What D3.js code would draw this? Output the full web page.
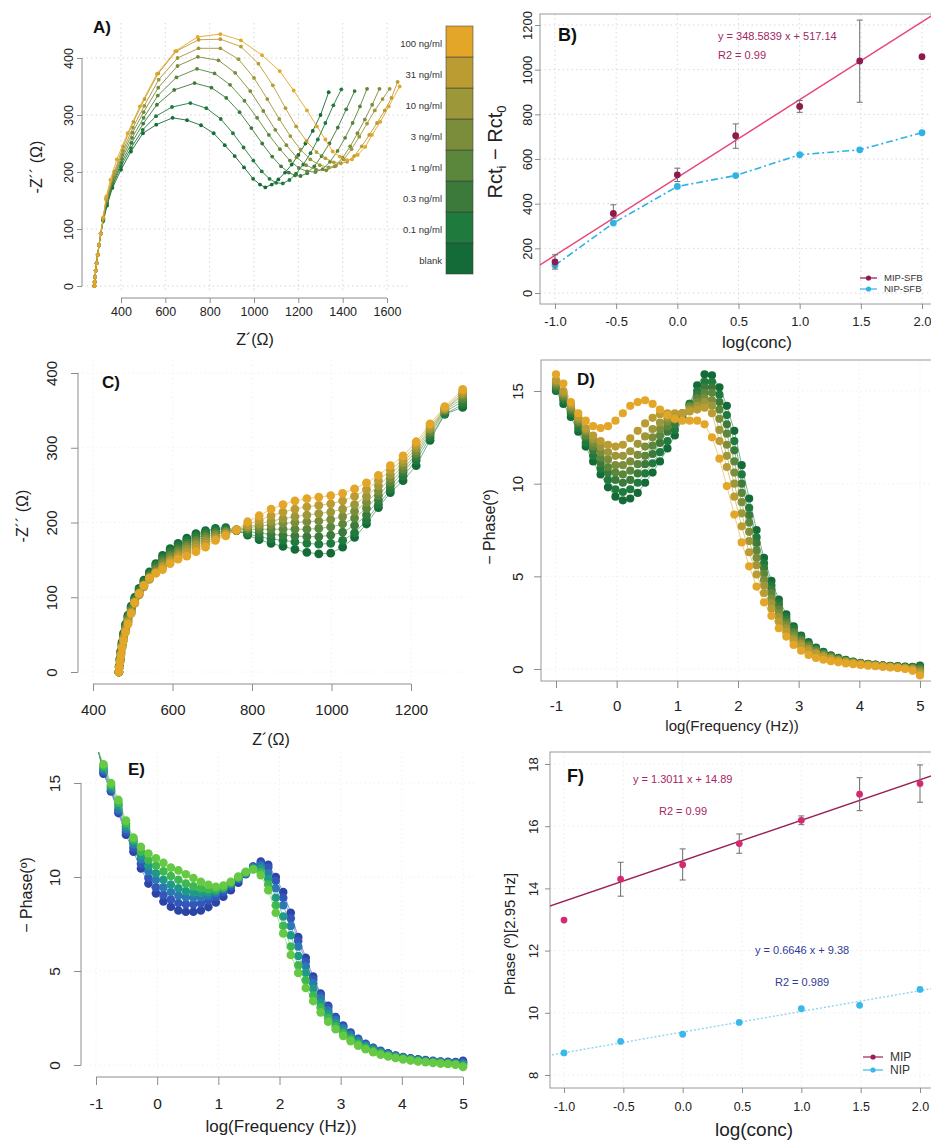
<!DOCTYPE html>
<html><head><meta charset="utf-8">
<script src="https://cdn.jsdelivr.net/npm/d3@7"></script>
<style>body{margin:0;background:#fff}svg{display:block}</style>
</head><body><svg width="931" height="1141"></svg>
<script>
// ---------- data ----------
const concLabels = ['blank', '0.1 ng/ml', '0.3 ng/ml', '1 ng/ml', '3 ng/ml', '10 ng/ml', '31 ng/ml', '100 ng/ml'];
const concColors = ['#156b37', '#1e7a3d', '#3b7a3b', '#5a873c', '#7b8d3a', '#9c9739', '#bb9c33', '#e3a629'];

// A) Nyquist, [Z', -Z'']
const nyqA = [
  [[280,0],[281,7],[283,16],[286,27],[290,40],[295,55],[301,72],[309,92],[320,114],[337,141],[361,172],[400,204],[445,236],[499,268],[559,283],[633,295],[698,291],[761,282],[818,268],[868,247],[913,228],[955,208],[996,188],[1027,178],[1051,173],[1080,178],[1110,187],[1140,199],[1170,213],[1200,230],[1232,250],[1265,272],[1300,300],[1337,340]],
  [[280,0],[281,7],[283,16],[286,27],[290,40],[295,55],[301,72],[309,92],[320,115],[337,144],[361,176],[400,210],[445,242],[498,274],[558,298],[630,314],[713,321],[785,312],[850,293],[905,268],[953,243],[997,220],[1035,201],[1070,188],[1100,181],[1130,180],[1160,186],[1190,197],[1222,213],[1255,233],[1288,257],[1322,286],[1358,317],[1394,345]],
  [[280,0],[281,7],[283,16],[286,27],[290,40],[295,55],[301,72],[309,92],[320,116],[337,146],[362,180],[402,216],[448,251],[500,285],[562,318],[640,344],[732,356],[808,348],[875,330],[935,305],[988,277],[1037,250],[1082,227],[1122,210],[1157,199],[1185,194],[1210,193],[1240,198],[1272,210],[1305,228],[1340,250],[1378,278],[1416,310],[1454,342]],
  [[280,0],[281,7],[283,16],[286,27],[290,40],[295,55],[301,72],[309,92],[320,117],[336,148],[364,185],[404,223],[450,260],[502,295],[566,334],[650,366],[743,381],[822,373],[892,353],[957,325],[1014,295],[1067,265],[1117,240],[1162,220],[1202,207],[1240,201],[1277,200],[1310,205],[1343,218],[1377,237],[1411,260],[1445,286],[1478,315],[1510,346]],
  [[280,0],[281,7],[283,16],[286,27],[290,40],[295,55],[301,72],[309,92],[320,118],[335,150],[366,190],[406,230],[452,269],[502,305],[568,348],[655,386],[747,402],[840,396],[915,374],[983,342],[1042,307],[1096,274],[1146,247],[1192,226],[1235,212],[1280,204],[1326,203],[1364,210],[1400,225],[1434,245],[1467,268],[1500,292],[1533,318],[1566,346]],
  [[280,0],[281,7],[283,16],[286,27],[290,40],[295,55],[301,72],[309,92],[320,119],[334,152],[368,195],[408,237],[454,278],[505,316],[570,362],[655,400],[750,417],[848,417],[930,398],[1000,365],[1060,328],[1114,293],[1164,263],[1210,239],[1254,222],[1297,212],[1337,208],[1370,211],[1405,222],[1440,240],[1475,262],[1510,285],[1545,308],[1580,328],[1612,346]],
  [[280,0],[281,7],[283,16],[286,27],[290,40],[295,55],[301,72],[309,92],[320,120],[333,154],[370,201],[410,245],[456,288],[506,328],[568,373],[650,412],[750,432],[848,433],[941,420],[1020,390],[1085,352],[1142,312],[1190,280],[1237,254],[1282,235],[1322,224],[1360,217],[1392,215],[1420,218],[1452,228],[1486,245],[1520,265],[1555,286],[1590,308],[1620,330],[1648,358]],
  [[280,0],[281,7],[283,16],[286,27],[290,40],[295,55],[301,72],[309,92],[320,121],[334,157],[352,186],[381,222],[430,268],[485,315],[562,372],[645,412],[746,437],[848,442],[941,431],[1036,405],[1116,377],[1179,343],[1239,308],[1284,280],[1322,257],[1355,236],[1387,227],[1420,221],[1442,222],[1468,230],[1502,244],[1532,265],[1570,288],[1608,315],[1657,350]]
];

// B) Rct_i - Rct_0 vs log(conc)
const logConc = [-1, -0.523, 0, 0.477, 1, 1.491, 2];
const rctMip = [139, 356, 529, 704, 835, 1039, 1058];
const rctMipLo = [107, 335, 499, 648, 809, 854, null];
const rctMipHi = [171, 395, 559, 757, 862, 1222, null];
const rctNip = [124, 313, 477, 526, 619, 641, 718];
const fitB = [348.5839, 517.14];

// C) Nyquist (shared Z' grid), -Z'' per concentration
const nyqCx = [465,466,468,470,473,477,482,488,496,505,516,528,542,558,575,594,614,636,659,683,708,734,761,789,818,848,878,908,938,968,998,1028,1058,1088,1118,1148,1180,1213,1248,1285,1330];
const nyqCy = [
  [0,8,18,28,40,52,64,76,88,100,112,123,134,145,156,165,172,179,185,189,192,193,190,183,177,172,168,164,160,158,159,167,180,198,220,240,256,276,310,345,354],
  [0,8,17,27,38,50,62,74,86,98,110,121,132,143,153,162,169,176,182,187,190,191,189,185,181,178,176,174,172,171,172,176,186,203,224,244,262,283,314,345,358],
  [0,7,16,26,37,49,61,73,85,97,108,119,130,141,151,159,166,173,179,184,187,189,189,188,186,184,183,182,181,181,183,187,196,210,230,249,267,288,318,348,362],
  [0,7,16,25,36,47,59,71,83,95,106,117,128,138,148,156,163,170,176,181,185,188,190,191,191,191,191,191,191,192,194,198,206,219,236,254,271,292,321,350,366],
  [0,7,15,24,35,46,57,69,81,93,104,115,125,135,145,153,160,167,173,178,183,187,190,193,195,197,199,200,201,202,204,208,215,227,242,259,276,296,324,351,370],
  [0,6,15,24,34,45,56,68,80,92,103,114,124,133,142,150,157,164,170,175,180,185,189,194,198,202,205,208,210,212,214,218,224,235,249,264,280,300,326,352,372],
  [0,6,14,23,33,44,55,66,79,92,104,115,125,133,140,148,154,160,166,171,178,184,190,197,203,209,214,218,221,223,225,229,235,244,256,270,284,304,329,353,375],
  [0,6,14,22,32,42,53,64,78,93,105,116,126,132,137,145,151,155,161,167,176,182,190,201,209,218,224,229,232,234,236,239,245,253,263,276,289,308,332,355,378]
];

// D) and E) Bode phase, shared log(f) grid
const logF = [-1,-0.878,-0.755,-0.633,-0.51,-0.388,-0.265,-0.143,-0.02,0.102,0.224,0.347,0.469,0.592,0.714,0.837,0.959,1.082,1.204,1.327,1.449,1.571,1.694,1.816,1.939,2.061,2.184,2.306,2.429,2.551,2.673,2.796,2.918,3.041,3.163,3.286,3.408,3.531,3.653,3.776,3.898,4.02,4.143,4.265,4.388,4.51,4.633,4.755,4.878,5];
const phaseD = [
  [15.0,14.3,13.6,12.8,12.0,11.2,10.5,9.8,9.3, 9.1,9.2,9.5,10.05,10.6,11.2,11.9,12.6, 13.5,14.3,15.3,15.9,15.85,15.2, 14.2,12.85,11.0,9.2,7.5,6.0,4.75,3.75,2.95,2.3, 1.8,1.45,1.15,0.92,0.74,0.6,0.49,0.4,0.33,0.28,0.24,0.2,0.17,0.15,0.13,0.12,0.18],
  [15.1,14.5,13.8,13.0,12.2,11.5,10.8,10.2,9.7, 9.55,9.7,10.05,10.55,11.1,11.7,12.3,12.9, 13.6,14.3,15.0,15.5,15.5,14.8, 13.7,12.3,10.5,8.7,7.1,5.7,4.5,3.55,2.8,2.2, 1.72,1.38,1.1,0.88,0.71,0.57,0.47,0.39,0.32,0.27,0.23,0.19,0.16,0.14,0.12,0.1,0.12],
  [15.2,14.6,13.9,13.2,12.5,11.8,11.1,10.6,10.2, 10.05,10.2,10.55,11.05,11.6,12.2,12.8,13.2, 13.7,14.2,14.8,15.2,15.2,14.4, 13.2,11.8,10.0,8.3,6.8,5.45,4.3,3.4,2.65,2.05, 1.63,1.31,1.05,0.84,0.68,0.55,0.45,0.37,0.31,0.26,0.22,0.18,0.15,0.12,0.1,0.08,0.05],
  [15.3,14.7,14.0,13.3,12.6,12.0,11.4,10.9,10.6, 10.5,10.7,11.05,11.5,12.05,12.6,13.1,13.45, 13.8,14.2,14.6,14.9,14.9,14.0, 12.7,11.2,9.5,7.9,6.4,5.15,4.1,3.2,2.5,1.95, 1.55,1.25,1.0,0.8,0.65,0.53,0.43,0.36,0.3,0.25,0.21,0.17,0.14,0.11,0.08,0.05,0.0],
  [15.4,14.8,14.1,13.4,12.8,12.2,11.7,11.3,11.0, 11.0,11.2,11.55,12.0,12.5,12.95,13.35,13.6, 13.8,14.1,14.4,14.6,14.5,13.5, 12.1,10.6,9.0,7.4,6.0,4.8,3.8,3.0,2.35,1.8, 1.45,1.16,0.93,0.75,0.61,0.5,0.41,0.34,0.28,0.23,0.19,0.15,0.12,0.09,0.06,0.02,-0.08],
  [15.5,14.9,14.2,13.5,12.9,12.4,12.0,11.7,11.5, 11.5,11.75,12.15,12.55,12.95,13.3,13.55,13.7, 13.8,14.0,14.2,14.4,14.2,12.9, 11.5,10.0,8.4,6.9,5.6,4.5,3.55,2.8,2.2,1.65, 1.35,1.08,0.87,0.7,0.57,0.47,0.39,0.32,0.26,0.22,0.18,0.14,0.11,0.08,0.04,0.0,-0.15],
  [15.6,15.0,14.3,13.6,13.0,12.6,12.3,12.1,12.0, 12.1,12.45,12.85,13.25,13.55,13.75,13.8,13.8, 13.8,13.9,14.0,14.1,13.8,12.3, 10.9,9.3,7.7,6.3,5.1,4.1,3.25,2.55,2.0,1.5, 1.22,0.98,0.8,0.65,0.53,0.44,0.37,0.3,0.25,0.21,0.17,0.13,0.1,0.07,0.03,-0.03,-0.25],
  [15.9,15.4,14.4,13.8,13.4,13.1,13.0,13.1,13.4, 13.8,14.2,14.4,14.5,14.3,14.0,13.7,13.5, 13.4,13.4,13.4,13.2,12.5,11.35, 9.87,8.33,6.83,5.54,4.45,3.6,2.87,2.2,1.75,1.3, 0.99,0.76,0.6,0.5,0.42,0.36,0.3,0.26,0.22,0.18,0.15,0.12,0.08,0.05,0.0,-0.1,-0.35]
];
const colorsE = ['#2b45a7', '#3456ba', '#2a78b4', '#1f9a86', '#3db850', '#66c944'];
const phaseE = [
  [17.3,15.5,14.55,13.4,12.25,11.35,10.45,9.65,9.13, 8.7,8.42,8.22,8.15,8.15,8.22,8.4,8.65, 8.95,9.3,9.7,10.15,10.55,10.82, 10.65,10.0,9.2,8.1,6.8,5.7,4.7,3.8,3.15,2.55, 2.1,1.72,1.4,1.13,0.92,0.75,0.62,0.5,0.42,0.35,0.3,0.26,0.22,0.19,0.17,0.16,0.22],
  [17.2,15.6,14.6,13.5,12.4,11.55,10.7,9.95,9.45, 9.05,8.8,8.62,8.55,8.55,8.6,8.75,8.95, 9.2,9.5,9.85,10.2,10.55,10.72, 10.5,9.8,8.9,7.8,6.6,5.5,4.55,3.7,3.05,2.5, 2.05,1.67,1.36,1.1,0.9,0.73,0.6,0.49,0.41,0.34,0.29,0.24,0.2,0.17,0.15,0.13,0.15],
  [17.1,15.7,14.7,13.6,12.55,11.75,10.95,10.3,9.85, 9.45,9.2,9.02,8.92,8.9,8.92,9.0,9.15, 9.35,9.6,9.9,10.2,10.5,10.6, 10.2,9.4,8.5,7.4,6.3,5.25,4.35,3.55,2.9,2.38, 1.95,1.6,1.3,1.05,0.86,0.7,0.57,0.47,0.39,0.32,0.27,0.22,0.18,0.15,0.12,0.1,0.08],
  [17.1,15.8,14.8,13.8,12.7,11.9,11.15,10.6,10.2, 9.85,9.6,9.4,9.25,9.18,9.15,9.18,9.25, 9.4,9.65,9.95,10.2,10.45,10.45, 9.9,8.9,7.9,6.9,5.8,4.9,4.05,3.3,2.7,2.22, 1.82,1.48,1.2,0.98,0.8,0.65,0.53,0.44,0.36,0.3,0.24,0.2,0.16,0.13,0.1,0.07,0.02],
  [17.0,15.9,14.9,13.95,12.85,12.0,11.35,10.9,10.6, 10.3,10.05,9.85,9.65,9.5,9.4,9.35,9.35, 9.45,9.7,9.98,10.25,10.42,10.25, 9.6,8.5,7.4,6.3,5.3,4.5,3.7,3.05,2.5,2.05, 1.68,1.37,1.11,0.9,0.73,0.6,0.49,0.4,0.33,0.27,0.21,0.17,0.13,0.1,0.07,0.04,-0.05],
  [17.0,16.0,15.0,14.1,13.0,12.1,11.6,11.25,11.0, 10.75,10.5,10.35,10.15,9.95,9.75,9.58,9.48, 9.55,9.75,10.02,10.28,10.4,10.1, 9.3,8.1,7.0,5.85,4.9,4.1,3.4,2.8,2.3,1.9, 1.55,1.27,1.03,0.84,0.68,0.55,0.45,0.37,0.3,0.24,0.19,0.15,0.11,0.08,0.05,0.02,-0.1]
];

// F) phase at 2.95 Hz vs log(conc)
const phMip = [12.98, 14.30, 14.76, 15.44, 16.19, 17.03, 17.37];
const phMipLo = [null, 13.75, 14.27, 15.13, 16.05, 16.50, 16.77];
const phMipHi = [null, 14.84, 15.27, 15.75, 16.33, 17.56, 17.97];
const phNip = [8.71, 9.08, 9.31, 9.69, 10.13, 10.24, 10.75];
const fitFmip = [1.3011, 14.89];
const fitFnip = [0.6646, 9.38];

// ---------- helpers ----------
const FONT = "'Liberation Sans', Arial, Helvetica, sans-serif";
const AX = '#8c8c8c', TXT = '#222';
let svg = d3.select('svg');
svg.append('rect').attr('width', 931).attr('height', 1141).attr('fill', '#fff');
let defs = svg.append('defs');

function clip(id, x, y, w, h)
{
	defs.append('clipPath').attr('id', id).append('rect').attr('x', x).attr('y', y).attr('width', w).attr('height', h);
	return svg.append('g').attr('clip-path', 'url(#' + id + ')');
}

// R style left axis: rotated labels, line only between first and last tick
function axisY(scale, ticks, x0, o)
{
	let g = svg.append('g').attr('transform', `translate(${x0},0)`)
		.call(d3.axisLeft(scale).tickValues(ticks).tickSize(o.tick || 6).tickFormat(o.fmt || (d => String(d))));
	g.select('.domain').remove();
	g.attr('font-family', FONT).attr('font-size', o.fs);
	g.selectAll('.tick line').attr('stroke', AX);
	g.selectAll('.tick text').attr('fill', TXT).attr('transform', 'rotate(-90)')
		.attr('x', 0).attr('y', -o.pad).attr('dy', 0).attr('text-anchor', 'middle');
	if (o.line)
		g.append('line').attr('y1', scale(ticks[0])).attr('y2', scale(ticks[ticks.length - 1])).attr('stroke', AX);
}

function axisX(scale, ticks, y0, o)
{
	let g = svg.append('g').attr('transform', `translate(0,${y0})`)
		.call(d3.axisBottom(scale).tickValues(ticks).tickSize(o.tick || 6).tickPadding(o.pad).tickFormat(o.fmt || (d => String(d))));
	g.select('.domain').remove();
	g.attr('font-family', FONT).attr('font-size', o.fs);
	g.selectAll('.tick line').attr('stroke', AX);
	g.selectAll('.tick text').attr('fill', TXT);
	if (o.line)
		g.append('line').attr('x1', scale(ticks[0])).attr('x2', scale(ticks[ticks.length - 1])).attr('stroke', AX);
}

function grid(xs, ys, sx, sy, x0, x1, y0, y1, col)
{
	let g = svg.append('g').attr('stroke', col).attr('stroke-dasharray', '1.5,3').attr('stroke-width', 1);
	g.selectAll(null).data(xs).enter().append('line')
		.attr('x1', d => sx(d)).attr('x2', d => sx(d)).attr('y1', y0).attr('y2', y1);
	g.selectAll(null).data(ys).enter().append('line')
		.attr('y1', d => sy(d)).attr('y2', d => sy(d)).attr('x1', x0).attr('x2', x1);
}

function text(x, y, s, o = {})
{
	return svg.append('text').attr('x', x).attr('y', y).text(s)
		.attr('font-family', FONT).attr('font-size', o.fs || 14)
		.attr('font-weight', o.bold ? 'bold' : null)
		.attr('fill', o.col || TXT).attr('text-anchor', o.anchor || 'start');
}

function vtext(x, y, s, fs)
{
	return svg.append('text').attr('transform', `translate(${x},${y}) rotate(-90)`)
		.attr('text-anchor', 'middle').attr('dy', '0.35em')
		.attr('font-family', FONT).attr('font-size', fs).attr('fill', TXT).text(s);
}

function series(g, pts, sx, sy, col, r, lw, lop)
{
	g.append('path').datum(pts)
		.attr('d', d3.line().x(d => sx(d[0])).y(d => sy(d[1])))
		.attr('fill', 'none').attr('stroke', col).attr('stroke-width', lw).attr('opacity', lop);
	g.selectAll(null).data(pts).enter().append('circle')
		.attr('cx', d => sx(d[0])).attr('cy', d => sy(d[1])).attr('r', r).attr('fill', col);
}

function errorBars(g, xs, lo, hi, sx, sy)
{
	xs.forEach((x, i) =>
	{
		if (lo[i] == null) return;
		let px = sx(x);
		g.append('line').attr('x1', px).attr('x2', px).attr('y1', sy(lo[i])).attr('y2', sy(hi[i])).attr('stroke', '#6d6d6d');
		[lo[i], hi[i]].forEach(v => g.append('line').attr('x1', px - 3).attr('x2', px + 3)
			.attr('y1', sy(v)).attr('y2', sy(v)).attr('stroke', '#6d6d6d'));
	});
}

function legendItem(x, y, col, label, fs, w)
{
	svg.append('line').attr('x1', x).attr('x2', x + w).attr('y1', y).attr('y2', y).attr('stroke', col).attr('stroke-width', 1.2);
	svg.append('circle').attr('cx', x + w / 2).attr('cy', y).attr('r', 2.6).attr('fill', col);
	text(x + w + 7, y, label, {fs: fs, col: '#333'}).attr('dy', '0.35em');
}

// ---------- A) ----------
let xA = d3.scaleLinear().domain([400, 1600]).range([121, 387]);
let yA = d3.scaleLinear().domain([0, 400]).range([286, 58]);
grid([400, 600, 800, 1000, 1200, 1400, 1600], [0, 100, 200, 300, 400], xA, yA, 82, 410, 23, 293, '#d6d6d6');
let gA = svg.append('g');
nyqA.forEach((s, k) => series(gA, s, xA, yA, concColors[k], 1.9, 1, 0.9));
axisY(yA, [0, 100, 200, 300, 400], 82, {fs: 12.5, pad: 9, tick: 5, line: true});
axisX(xA, [400, 600, 800, 1000, 1200, 1400, 1600], 298, {fs: 12.5, pad: 4, tick: 5, line: true});
text(255, 345, 'Z´(Ω)', {fs: 16, anchor: 'middle'});
vtext(36, 167, '-Z´´ (Ω)', 16);
text(93, 33, 'A)', {fs: 17, bold: true, col: '#111'});

// colour key
let band = d3.scaleBand().domain(concLabels.slice().reverse()).range([26, 274]);
svg.append('g').selectAll('rect').data(concLabels).enter().append('rect')
	.attr('x', 446).attr('width', 27).attr('y', d => band(d)).attr('height', band.bandwidth())
	.attr('fill', (d, i) => concColors[i]).attr('stroke', '#3d3d3d').attr('stroke-opacity', 0.55);
svg.append('g').selectAll('text').data(concLabels).enter().append('text')
	.attr('x', 442).attr('y', d => band(d) + band.bandwidth() / 2 + 2).attr('dy', '0.35em')
	.attr('text-anchor', 'end').attr('font-family', FONT).attr('font-size', 9.5).attr('fill', '#333')
	.text(d => d);

// ---------- B) ----------
let xB = d3.scaleLinear().domain([-1, 2]).range([555, 922]);
let yB = d3.scaleLinear().domain([0, 1200]).range([293, 25]);
let concTicks = [-1, -0.5, 0, 0.5, 1, 1.5, 2];
grid(concTicks, [0, 200, 400, 600, 800, 1000, 1200], xB, yB, 540, 931, 14, 304, '#d9d9d9');
svg.append('rect').attr('x', 540).attr('y', 14).attr('width', 420).attr('height', 290)
	.attr('fill', 'none').attr('stroke', '#9a9a9a');
let gB = clip('clipB', 540, 14, 400, 290);
gB.append('line').attr('x1', xB(-1.3)).attr('x2', xB(2.3))
	.attr('y1', yB(fitB[0] * -1.3 + fitB[1])).attr('y2', yB(fitB[0] * 2.3 + fitB[1]))
	.attr('stroke', '#e8457c').attr('stroke-width', 1.4);
let nipB = logConc.map((x, i) => [x, rctNip[i]]);
gB.append('path').datum(nipB).attr('d', d3.line().x(d => xB(d[0])).y(d => yB(d[1])))
	.attr('fill', 'none').attr('stroke', '#2fb3e6').attr('stroke-width', 1.6).attr('stroke-dasharray', '7,3,2,3');
gB.selectAll(null).data(nipB).enter().append('circle')
	.attr('cx', d => xB(d[0])).attr('cy', d => yB(d[1])).attr('r', 3.4).attr('fill', '#2fb3e6');
errorBars(gB, logConc, rctMipLo, rctMipHi, xB, yB);
gB.selectAll(null).data(logConc).enter().append('circle')
	.attr('cx', d => xB(d)).attr('cy', (d, i) => yB(rctMip[i])).attr('r', 3.4).attr('fill', '#8e1b4d');
axisY(yB, [0, 200, 400, 600, 800, 1000, 1200], 540, {fs: 13, pad: 8, tick: 5});
axisX(xB, concTicks, 304, {fs: 13, pad: 8, tick: 5, fmt: d => d.toFixed(1)});
text(757, 348, 'log(conc)', {fs: 17, anchor: 'middle'});
let ylB = svg.append('text').attr('transform', 'translate(495,152) rotate(-90)')
	.attr('text-anchor', 'middle').attr('dy', '0.35em')
	.attr('font-family', FONT).attr('font-size', 20).attr('fill', TXT);
ylB.append('tspan').text('Rct');
ylB.append('tspan').text('i').attr('font-size', 13).attr('dy', '0.3em');
ylB.append('tspan').text(' − Rct').attr('dy', '-0.2em');
ylB.append('tspan').text('0').attr('font-size', 13).attr('dy', '0.3em');
text(718, 40, 'y = ' + fitB[0] + ' x + ' + fitB[1], {fs: 11, col: '#a0285f'});
text(718, 59, 'R2 = 0.99', {fs: 11, col: '#a0285f'});
legendItem(860, 278, '#8e1b4d', 'MIP-SFB', 9.5, 17);
legendItem(860, 289, '#2fb3e6', 'NIP-SFB', 9.5, 17);
text(558, 41, 'B)', {fs: 18, bold: true, col: '#111'});

// ---------- C) ----------
let xC = d3.scaleLinear().domain([400, 1200]).range([93, 411]);
let yC = d3.scaleLinear().domain([0, 400]).range([672, 373]);
grid([400, 600, 800, 1000, 1200], [0, 100, 200, 300, 400], xC, yC, 78, 470, 360, 680, '#f0f0f0');
let gC = svg.append('g');
nyqCy.forEach((ys, k) => series(gC, nyqCx.map((x, i) => [x, ys[i]]), xC, yC, concColors[k], 4.4, 0.8, 0.7));
axisY(yC, [0, 100, 200, 300, 400], 78, {fs: 15, pad: 21, tick: 7, line: true});
axisX(xC, [400, 600, 800, 1000, 1200], 684, {fs: 15, pad: 13, tick: 7, line: true});
text(271, 745, 'Z´(Ω)', {fs: 16, anchor: 'middle'});
vtext(22, 516, '-Z´´ (Ω)', 16);
text(102, 388, 'C)', {fs: 17, bold: true, col: '#111'});

// ---------- D) ----------
let xD = d3.scaleLinear().domain([-1, 5]).range([556, 920]);
let yD = d3.scaleLinear().domain([0, 15]).range([669, 391]);
let fTicks = [-1, 0, 1, 2, 3, 4, 5];
grid(fTicks, [0, 5, 10, 15], xD, yD, 541, 931, 360, 681, '#efefef');
svg.append('rect').attr('x', 541).attr('y', 360).attr('width', 420).attr('height', 321)
	.attr('fill', 'none').attr('stroke', '#9a9a9a');
let gD = clip('clipD', 541, 360, 400, 321);
phaseD.forEach((ys, k) => series(gD, logF.map((x, i) => [x, ys[i]]), xD, yD, concColors[k], 4.1, 0.8, 0.7));
axisY(yD, [0, 5, 10, 15], 541, {fs: 15, pad: 18, tick: 7});
axisX(xD, fTicks, 681, {fs: 15, pad: 12, tick: 7});
text(732, 731, 'log(Frequency (Hz))', {fs: 15, anchor: 'middle'});
vtext(489, 527, '− Phase(º)', 16);
text(577, 385, 'D)', {fs: 17, bold: true, col: '#111'});

// ---------- E) ----------
let xE = d3.scaleLinear().domain([-1, 5]).range([96, 463]);
let yE = d3.scaleLinear().domain([0, 15]).range([1065, 783]);
grid(fTicks, [0, 5, 10, 15], xE, yE, 81, 475, 752, 1072, '#f0f0f0');
let gE = clip('clipE', 81, 752, 400, 325);
phaseE.forEach((ys, k) => series(gE, logF.map((x, i) => [x, ys[i]]), xE, yE, colorsE[k], 4.3, 0.8, 0.7));
axisY(yE, [0, 5, 10, 15], 81, {fs: 15.5, pad: 21, tick: 7, line: true});
axisX(xE, fTicks, 1077, {fs: 15.5, pad: 13, tick: 8, line: true});
text(281, 1132, 'log(Frequency (Hz))', {fs: 17, anchor: 'middle'});
vtext(26, 895, '− Phase(º)', 16);
text(128, 775, 'E)', {fs: 17, bold: true, col: '#111'});

// ---------- F) ----------
let xF = d3.scaleLinear().domain([-1, 2]).range([564, 920]);
let yF = d3.scaleLinear().domain([8, 18]).range([1075, 764]);
grid(concTicks, [8, 10, 12, 14, 16, 18], xF, yF, 550, 931, 752, 1088, '#ececec');
svg.append('rect').attr('x', 550).attr('y', 752).attr('width', 420).attr('height', 336)
	.attr('fill', 'none').attr('stroke', '#9a9a9a');
let gF = clip('clipF', 550, 752, 400, 336);
gF.append('line').attr('x1', xF(-1.3)).attr('x2', xF(2.3))
	.attr('y1', yF(fitFnip[0] * -1.3 + fitFnip[1])).attr('y2', yF(fitFnip[0] * 2.3 + fitFnip[1]))
	.attr('stroke', '#8fd3f0').attr('stroke-width', 1.4).attr('stroke-dasharray', '2,2');
gF.append('line').attr('x1', xF(-1.3)).attr('x2', xF(2.3))
	.attr('y1', yF(fitFmip[0] * -1.3 + fitFmip[1])).attr('y2', yF(fitFmip[0] * 2.3 + fitFmip[1]))
	.attr('stroke', '#9a1f56').attr('stroke-width', 1.5);
errorBars(gF, logConc, phMipLo, phMipHi, xF, yF);
gF.selectAll(null).data(logConc).enter().append('circle')
	.attr('cx', d => xF(d)).attr('cy', (d, i) => yF(phMip[i])).attr('r', 3.4).attr('fill', '#d42a72');
gF.selectAll(null).data(logConc).enter().append('circle')
	.attr('cx', d => xF(d)).attr('cy', (d, i) => yF(phNip[i])).attr('r', 3.4).attr('fill', '#39b8ea');
axisY(yF, [8, 10, 12, 14, 16, 18], 550, {fs: 13, pad: 12, tick: 5});
axisX(xF, concTicks, 1088, {fs: 12.5, pad: 9, tick: 5, fmt: d => d.toFixed(1)});
text(754, 1136, 'log(conc)', {fs: 19, anchor: 'middle'});
vtext(510, 934, 'Phase (º)[2.95 Hz]', 15);
text(633, 783, 'y = ' + fitFmip[0] + ' x + ' + fitFmip[1], {fs: 11, col: '#a8245f'});
text(659, 815, 'R2 = 0.99', {fs: 11, col: '#a8245f'});
text(755, 954, 'y = ' + fitFnip[0] + ' x + ' + fitFnip[1], {fs: 11, col: '#2f3a96'});
text(775, 986, 'R2 = 0.989', {fs: 11, col: '#2f3a96'});
legendItem(863, 1057, '#9a1f56', 'MIP', 12, 20);
legendItem(863, 1070, '#39b8ea', 'NIP', 12, 20);
text(567, 782, 'F)', {fs: 18, bold: true, col: '#111'});
</script></body></html>
